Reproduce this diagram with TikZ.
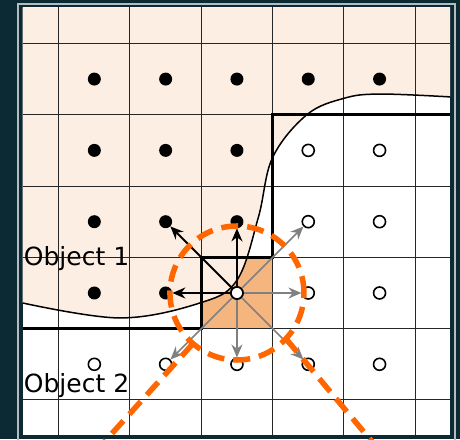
\documentclass[tikz,border=0pt]{standalone}
\usepackage{fontspec}
\setmainfont{DejaVu Sans}
\usetikzlibrary{arrows.meta, positioning, calc}

\definecolor{bgteal}{RGB}{12,42,52}
\definecolor{framegray}{RGB}{180,188,190}
\definecolor{objpeach}{RGB}{253,238,227}
\definecolor{cellorange}{RGB}{245,181,127}
\definecolor{lensorange}{RGB}{255,102,0}

\begin{document}
\begin{tikzpicture}[
    x=71.3pt, y=71.3pt,
    fulldot/.style={circle, fill=black, inner sep=0pt, minimum size=13pt},
    opendot/.style={circle, draw=black, fill=white, line width=1.6pt, inner sep=0pt, minimum size=12pt},
    blkarr/.style={-{Stealth[length=13pt, width=11pt]}, line width=2pt, black},
    gryarr/.style={-{Stealth[length=13pt, width=11pt]}, line width=1.6pt, black!50},
    lens/.style={circle, draw=lensorange, line width=5.5pt, dash pattern=on 17pt off 9pt,
                 minimum size=134pt, inner sep=0pt, outer sep=0pt},
    zoomline/.style={draw=lensorange, line width=5.5pt, dash pattern=on 17pt off 9pt},
    objlabel/.style={anchor=base west, inner sep=0pt, font=\fontsize{25}{30}\selectfont}
]
\useasboundingbox (-2.823,-1.548) rectangle (3.628,4.609);
\clip (-2.823,-1.548) rectangle (3.628,4.609);
% dark slide background and light frame
\fill[bgteal] (-2.823,-1.548) rectangle (3.628,4.609);
\draw[framegray, line width=2pt] (-2.571,-1.8) rectangle (3.558,4.55);
% cells: white, the current cell, then the region of object 1
\fill[white] (-2.505,-1.492) rectangle (3.489,4.505);
\fill[cellorange] (0,0) rectangle (1,1);
\fill[objpeach] (-2.505,4.505) -- plot[smooth, tension=0.6] coordinates {
    (-2.505,0.36) (-1.14,0.15) (-0.02,0.36) (0.5,0.68) (0.8,1.56)
    (1.0,2.4) (1.48,3.0) (2.0,3.23) (2.5,3.29) (3.489,3.25)} -- (3.489,4.505) -- cycle;
\draw[black!85, line width=1pt, step=1] (-2.505,-1.492) grid (3.489,4.505);
% staircase boundary on the grid and the true boundary
\draw[line width=2.7pt] (-2.505,0) -- (0,0) -- (0,1) -- (1,1) -- (1,3) -- (3.489,3);
\draw[line width=1.5pt] plot[smooth, tension=0.6] coordinates {
    (-2.505,0.36) (-1.14,0.15) (-0.02,0.36) (0.5,0.68) (0.8,1.56)
    (1.0,2.4) (1.48,3.0) (2.0,3.23) (2.5,3.29) (3.489,3.25)};
% sample points, row by row from the top
\node[fulldot] (a1) at (-1.5,3.5) {};
\node[fulldot] (b1) at (-0.5,3.5) {};
\node[fulldot] (c1) at (0.5,3.5)  {};
\node[fulldot] (d1) at (1.5,3.5)  {};
\node[fulldot] (e1) at (2.5,3.5)  {};
\node[fulldot] (a2) at (-1.5,2.5) {};
\node[fulldot] (b2) at (-0.5,2.5) {};
\node[fulldot] (c2) at (0.5,2.5)  {};
\node[opendot] (d2) at (1.5,2.5)  {};
\node[opendot] (e2) at (2.5,2.5)  {};
\node[fulldot] (a3) at (-1.5,1.5) {};
\node[fulldot] (b3) at (-0.5,1.5) {};
\node[fulldot] (c3) at (0.5,1.5)  {};
\node[opendot] (d3) at (1.5,1.5)  {};
\node[opendot] (e3) at (2.5,1.5)  {};
\node[fulldot] (a4) at (-1.5,0.5) {};
\node[fulldot] (b4) at (-0.5,0.5) {};
\node[opendot] (d4) at (1.5,0.5)  {};
\node[opendot] (e4) at (2.5,0.5)  {};
\node[opendot] (a5) at (-1.5,-0.5) {};
\node[opendot] (b5) at (-0.5,-0.5) {};
\node[opendot] (c5) at (0.5,-0.5)  {};
\node[opendot] (d5) at (1.5,-0.5)  {};
\node[opendot] (e5) at (2.5,-0.5)  {};
% current point and its eight neighbours
\node[opendot] (c4) at (0.5,0.5) {};
\draw[gryarr] (c4) -- (d3);
\draw[gryarr] (c4) -- (d4);
\draw[gryarr] (c4) -- (d5);
\draw[gryarr] (c4) -- (c5);
\draw[gryarr] (c4) -- (b5);
\draw[blkarr] (c4) -- (b3);
\draw[blkarr] (c4) -- (c3);
\draw[blkarr] (c4) -- (b4);
\node[opendot] at (c4) {};
% magnifying lens
\node[lens] (zoom) at (c4) {};
\coordinate (zl) at (-1.46,-1.7);
\coordinate (zr) at (2.49,-1.7);
\draw[zoomline] (zoom.229.5) -- (zl);
\draw[zoomline] (zoom.317) -- (zr);
% labels
\node[objlabel] (obj1) at (-2.49,0.882)  {Object 1};
\node[objlabel] (obj2) at (-2.49,-0.893) {Object 2};
\end{tikzpicture}
\end{document}
